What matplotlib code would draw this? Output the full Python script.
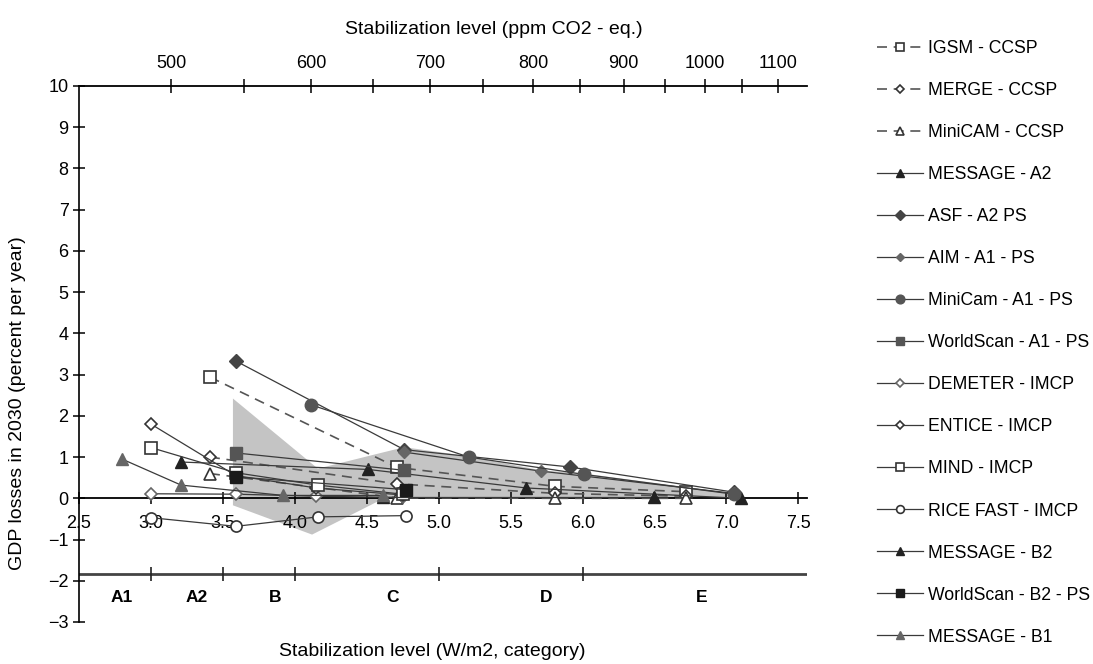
import matplotlib
matplotlib.use("Agg")
import matplotlib.pyplot as plt
import numpy as np
from matplotlib.ticker import FixedLocator

plt.rcParams['font.family'] = ['Liberation Sans', 'DejaVu Sans']

# x = stabilization level (W/m2), y = GDP losses in 2030 (% per year)
igsm_x = [3.41, 4.71, 5.81, 6.72]
igsm_y = [2.94, 0.75, 0.29, 0.16]
merge_x = [3.41, 4.71, 5.81, 6.72]
merge_y = [1.00, 0.35, 0.12, 0.05]
minicam_ccsp_x = [3.41, 4.71, 5.81, 6.72]
minicam_ccsp_y = [0.60, 0.01, 0.00, 0.00]
message_a2_x = [3.21, 4.51, 5.61, 7.10]
message_a2_y = [0.88, 0.70, 0.25, 0.00]
asf_x = [3.59, 4.76, 5.91, 7.05]
asf_y = [3.33, 1.18, 0.76, 0.15]
aim_x = [4.76, 5.71, 7.05]
aim_y = [1.12, 0.66, 0.12]
minicam_a1_x = [4.11, 5.21, 6.01, 7.05]
minicam_a1_y = [2.27, 1.00, 0.58, 0.10]
worldscan_a1_x = [3.59, 4.76]
worldscan_a1_y = [1.10, 0.68]
demeter_x = [3.00, 3.59, 4.15, 4.75]
demeter_y = [0.11, 0.10, 0.05, 0.02]
entice_x = [3.00, 3.59, 4.15, 4.75]
entice_y = [1.80, 0.55, 0.25, 0.08]
mind_x = [3.00, 3.59, 4.16, 4.75]
mind_y = [1.23, 0.62, 0.32, 0.10]
rice_x = [3.00, 3.59, 4.16, 4.77]
rice_y = [-0.47, -0.68, -0.45, -0.42]
message_b2_x = [4.61, 6.50]
message_b2_y = [0.03, 0.03]
worldscan_b2_x = [3.59, 4.77]
worldscan_b2_y = [0.52, 0.21]
message_b1_x = [2.80, 3.21, 3.92, 4.61]
message_b1_y = [0.95, 0.32, 0.07, 0.07]

# grey range of studies (upper edge left->right, lower edge right->left)
band_up_x = [3.57, 4.16, 4.76, 5.21, 5.71, 6.01, 7.05]
band_up_y = [2.42, 0.72, 1.24, 1.02, 0.68, 0.60, 0.12]
band_lo_x = [7.05, 4.62, 4.12, 3.57]
band_lo_y = [0.00, 0.00, -0.88, -0.17]

# stabilization categories
cat_edges = [3.0, 3.5, 4.0, 5.0, 6.0]
cat_names = ['A1', 'A2', 'B', 'C', 'D', 'E']
cat_pos = [2.80, 3.32, 3.86, 4.68, 5.75, 6.83]
cat_line_y = -1.83

ppm_major = [500, 600, 700, 800, 900, 1000, 1100]
ppm_minor = [550, 650, 750, 850, 950, 1050]

fig = plt.figure(figsize=(10.93, 6.64), dpi=100)
ax = fig.add_axes([79 / 1093, 1 - 622 / 664, 728 / 1093, 536 / 664])
ax.set_xlim(2.5, 7.56)
ax.set_ylim(-3, 10)

ax.fill(band_up_x + band_lo_x, band_up_y + band_lo_y, color='#c4c4c4', lw=0, zorder=1)

dk = '#3a3a3a'
dash = dict(ls=(0, (6, 4)), color='#555555', lw=1.2)
solid = dict(ls='-', color=dk, lw=0.9)
openm = dict(mfc='white', mec='#333333', mew=1.2)

series = [
    (igsm_x, igsm_y, 'IGSM - CCSP', dash, dict(marker='s', ms=9, **openm)),
    (merge_x, merge_y, 'MERGE - CCSP', dash, dict(marker='D', ms=6.5, **openm)),
    (minicam_ccsp_x, minicam_ccsp_y, 'MiniCAM - CCSP', dash, dict(marker='^', ms=8, **openm)),
    (message_a2_x, message_a2_y, 'MESSAGE - A2', solid, dict(marker='^', ms=8, mfc='#222222', mec='#222222')),
    (asf_x, asf_y, 'ASF - A2 PS', solid, dict(marker='D', ms=7, mfc='#444444', mec='#444444')),
    (aim_x, aim_y, 'AIM - A1 - PS', solid, dict(marker='D', ms=6, mfc='#666666', mec='#666666')),
    (minicam_a1_x, minicam_a1_y, 'MiniCam - A1 - PS', solid, dict(marker='o', ms=9, mfc='#555555', mec='#555555')),
    (worldscan_a1_x, worldscan_a1_y, 'WorldScan - A1 - PS', solid, dict(marker='s', ms=8, mfc='#555555', mec='#555555')),
    (demeter_x, demeter_y, 'DEMETER - IMCP', solid, dict(marker='D', ms=6, mfc='white', mec='#666666', mew=1.2)),
    (entice_x, entice_y, 'ENTICE - IMCP', solid, dict(marker='D', ms=6.5, **openm)),
    (mind_x, mind_y, 'MIND - IMCP', solid, dict(marker='s', ms=9, **openm)),
    (rice_x, rice_y, 'RICE FAST - IMCP', solid, dict(marker='o', ms=8, **openm)),
    (message_b2_x, message_b2_y, 'MESSAGE - B2', solid, dict(marker='^', ms=8, mfc='#222222', mec='#222222')),
    (worldscan_b2_x, worldscan_b2_y, 'WorldScan - B2 - PS', solid, dict(marker='s', ms=8.5, mfc='#1a1a1a', mec='#1a1a1a')),
    (message_b1_x, message_b1_y, 'MESSAGE - B1', solid, dict(marker='^', ms=8, mfc='#666666', mec='#666666')),
]
handles = []
for xs, ys, lab, lst, mst in series:
    h, = ax.plot(xs, ys, label=lab, zorder=3, **lst, **mst)
    handles.append(h)

# axes styling
for s in ['top', 'right']:
    ax.spines[s].set_visible(False)
ax.spines['bottom'].set_position(('data', 0))
ax.spines['bottom'].set_linewidth(1.3)
ax.spines['left'].set_linewidth(1.2)
ax.set_xticks(np.arange(2.5, 7.51, 0.5))
ax.set_xticklabels(['%.1f' % v for v in np.arange(2.5, 7.51, 0.5)])
ax.set_yticks(range(-3, 11))
ax.tick_params(axis='x', direction='inout', length=8, width=1.1, pad=8, labelsize=13)
ax.tick_params(axis='y', direction='inout', length=9, width=1.1, pad=3, labelsize=13)

# category axis
ax.axhline(cat_line_y, color='#444444', lw=2, zorder=2)
ax.vlines(cat_edges, cat_line_y - 0.17, cat_line_y + 0.17, color='#222222', lw=1.2)
for name, xp in zip(cat_names, cat_pos):
    ax.text(xp, -2.4, name, ha='center', va='center', fontsize=12.5, fontweight='bold')

# top axis in ppm CO2-eq
def w_to_ppm(w):
    return 278.0 * np.exp(np.asarray(w) / 5.35)

def ppm_to_w(c):
    return 5.35 * np.log(np.clip(np.asarray(c, dtype=float), 1e-6, None) / 278.0)

sec = ax.secondary_xaxis('top', functions=(w_to_ppm, ppm_to_w))
sec.set_xticks(ppm_major)
sec.xaxis.set_minor_locator(FixedLocator(ppm_minor))
sec.tick_params(which='both', direction='inout', length=10, width=1.1, pad=5, labelsize=13)
sec.spines['top'].set_linewidth(1.3)

fig.text(494 / 1093, 1 - 30 / 664, 'Stabilization level (ppm CO2 - eq.)', ha='center', va='center', fontsize=14)
fig.text(432 / 1093, 1 - 652 / 664, 'Stabilization level (W/m2, category)', ha='center', va='center', fontsize=14)
fig.text(18 / 1093, 1 - 403 / 664, 'GDP losses in 2030 (percent per year)', ha='center', va='center',
         rotation=90, fontsize=14)

fig.legend(handles=handles, loc='upper left', bbox_to_anchor=(877 / 1093, 1 - 40 / 664),
           frameon=False, fontsize=12.7, handlelength=2.6, handletextpad=0.3,
           labelspacing=1.42, borderpad=0, borderaxespad=0, markerscale=0.7)

fig.savefig('out.png', dpi=100)
